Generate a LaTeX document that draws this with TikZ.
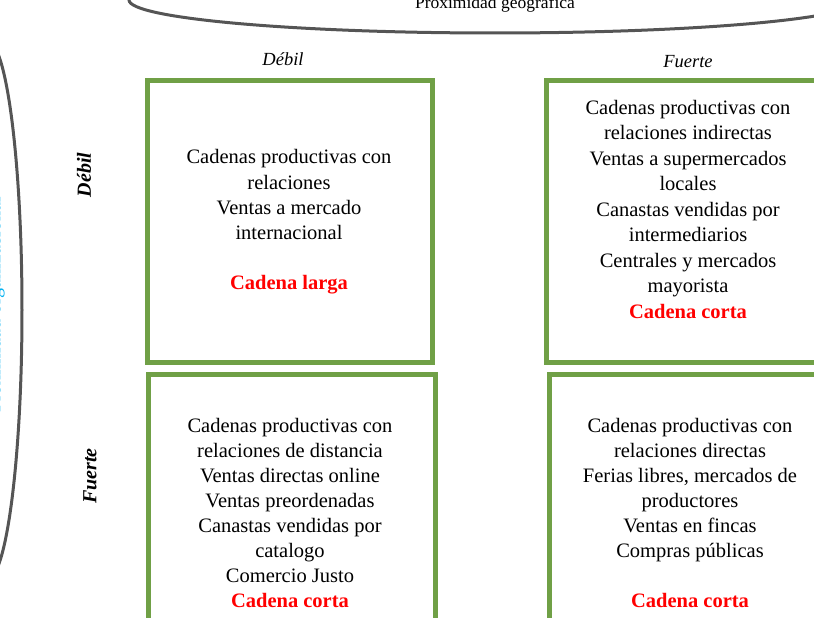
\documentclass[tikz,border=0pt]{standalone}
\usepackage{fontspec}
\setmainfont{Liberation Serif}
\definecolor{boxgreen}{RGB}{112,160,70}
\definecolor{ringgray}{RGB}{85,85,85}
\definecolor{labcyan}{RGB}{0,176,240}
\begin{document}
\begin{tikzpicture}[x=1pt,y=-1pt,
  quad/.style={draw=boxgreen, line width=5pt, inner sep=0pt},
  body/.style={align=center, inner sep=0pt, font=\fontsize{20.5}{25.2}\selectfont},
  toplab/.style={font=\fontsize{18.5}{22}\selectfont\itshape, inner sep=0pt},
  sidelab/.style={font=\fontsize{20}{24}\selectfont\bfseries\itshape, rotate=90, inner sep=0pt},
  ring/.style={draw=ringgray, line width=3pt}]
\useasboundingbox (0,0) rectangle (814,618);
\clip (0,0) rectangle (814,618);
% axis rings
\draw[ring] (495,0) ellipse [x radius=366, y radius=33];
\draw[ring] (-13,310) ellipse [x radius=35, y radius=270];
\node[font=\fontsize{17.5}{20}\selectfont, anchor=base, inner sep=0pt] (gx) at (495,9) {Proximidad geográfica};
\node[font=\fontsize{20}{24}\selectfont, text=labcyan, rotate=90, anchor=base, inner sep=0pt] (gy) at (0.3,305) {Proximidad organizacional};
% column / row labels
\node[toplab] (cd) at (283,59) {Débil};
\node[toplab] (cf) at (688,62) {Fuerte};
\node[sidelab] (rd) at (84,175) {Débil};
\node[sidelab] (rf) at (90,476) {Fuerte};
% boxes
\node[quad, minimum width=284.5pt, minimum height=281pt] (b1) at (289.75,221.5) {};
\node[quad, minimum width=293.5pt, minimum height=281pt] (b2) at (693.25,221.5) {};
\node[quad, minimum width=286.5pt, minimum height=275.5pt] (b3) at (291.75,512.25) {};
\node[quad, minimum width=290.5pt, minimum height=275.5pt] (b4) at (694.75,512.25) {};
% contents
\node[body] (t1) at (289,222) {Cadenas productivas con\\relaciones\\Ventas a mercado\\internacional\\\mbox{}\\{\color{red}\bfseries Cadena larga}};
\node[body, font=\fontsize{20.5}{25.5}\selectfont] (t2) at (688,209) {Cadenas productivas con\\relaciones indirectas\\Ventas a supermercados\\locales\\Canastas vendidas por\\intermediarios\\Centrales y mercados\\mayorista\\{\color{red}\bfseries Cadena corta}};
\node[body, font=\fontsize{20.5}{25}\selectfont] (t3) at (290,512.5) {Cadenas productivas con\\relaciones de distancia\\Ventas directas online\\Ventas preordenadas\\Canastas vendidas por\\catalogo\\Comercio Justo\\{\color{red}\bfseries Cadena corta}};
\node[body, font=\fontsize{20.5}{25.1}\selectfont] (t4) at (690,513) {Cadenas productivas con\\relaciones directas\\Ferias libres, mercados de\\productores\\Ventas en fincas\\Compras públicas\\\mbox{}\\{\color{red}\bfseries Cadena corta}};
\end{tikzpicture}
\end{document}
